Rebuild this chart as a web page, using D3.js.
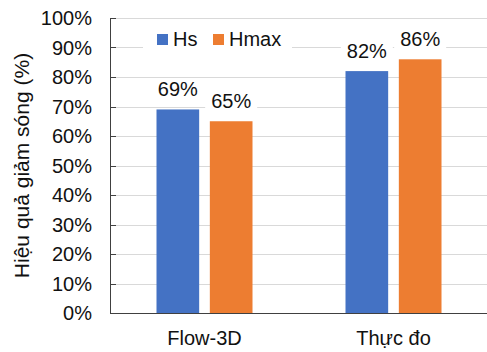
<!DOCTYPE html>
<html>
<head>
<meta charset="utf-8">
<script src="https://cdn.jsdelivr.net/npm/d3@7"></script>
<style>
body { margin: 0; background: #fff; }
svg { display: block; font-family: "Liberation Sans", Arial, sans-serif; }
</style>
</head>
<body>
<div id="chart"></div>
<script>

//=====================DATA=====================

const categories = ['Flow-3D', 'Thực đo']
const series = ['Hs', 'Hmax']
const hsValues = [69, 82]
const hmaxValues = [65, 86]
const yTicks = [0, 10, 20, 30, 40, 50, 60, 70, 80, 90, 100]
const yTitle = 'Hiệu quả giảm sóng (%)'

const colors = {Hs: '#4472C4', Hmax: '#ED7D31'}

//====================STRUCTURE===================

const width = 487
const height = 352
const margin = {top: 18, right: 0, bottom: 39, left: 110}

const svg = d3.select('#chart')
.append('svg')
.attr('width', width)
.attr('height', height)

const x0 = d3.scaleBand()
.domain(categories)
.range([margin.left, 488])

const groupWidth = 96

const x1 = d3.scaleBand()
.domain(series)
.range([0, groupWidth])
.paddingInner(0.2)

const y = d3.scaleLinear()
.domain([0, 100])
.range([height - margin.bottom, margin.top])

const crisp = v => Math.round(v) + 0.5

//================GRID & AXES======================================

svg.append('g')
.selectAll('line')
.data(yTicks.filter(t => t > 0))
.enter()
.append('line')
.attr('x1', margin.left)
.attr('x2', width)
.attr('y1', d => crisp(y(d)))
.attr('y2', d => crisp(y(d)))
.attr('stroke', '#d9d9d9')

//tick marks on the inside of the value axis
svg.append('g')
.selectAll('line')
.data(yTicks)
.enter()
.append('line')
.attr('x1', margin.left)
.attr('x2', margin.left + 6)
.attr('y1', d => crisp(y(d)))
.attr('y2', d => crisp(y(d)))
.attr('stroke', '#404040')

svg.append('line')
.attr('x1', margin.left + 0.5)
.attr('x2', margin.left + 0.5)
.attr('y1', crisp(y(100)))
.attr('y2', crisp(y(0)))
.attr('stroke', '#404040')

svg.append('line')
.attr('x1', margin.left)
.attr('x2', width)
.attr('y1', crisp(y(0)))
.attr('y2', crisp(y(0)))
.attr('stroke', '#404040')

svg.append('g')
.selectAll('text')
.data(yTicks)
.enter()
.append('text')
.attr('x', 92)
.attr('y', d => y(d) + 7)
.attr('text-anchor', 'end')
.attr('font-size', 20)
.attr('fill', '#111')
.text(d => d + '%')

svg.append('g')
.selectAll('text')
.data(categories)
.enter()
.append('text')
.attr('x', d => x0(d) + x0.bandwidth() / 2)
.attr('y', 345)
.attr('text-anchor', 'middle')
.attr('font-size', 20)
.attr('fill', '#111')
.text(d => d)

svg.append('text')
.attr('transform', `translate(29, ${(y(0) + y(100)) / 2}) rotate(-90)`)
.attr('text-anchor', 'middle')
.attr('font-size', 21)
.attr('fill', '#111')
.text(yTitle)

//================BARS======================================

const rows = categories.map((c, i) => ({
	category: c,
	values: [{key: 'Hs', value: hsValues[i]}, {key: 'Hmax', value: hmaxValues[i]}]
}))

const groups = svg.append('g')
.selectAll('g')
.data(rows)
.enter()
.append('g')
.attr('transform', d => `translate(${x0(d.category) + (x0.bandwidth() - groupWidth) / 2}, 0)`)

groups.selectAll('rect')
.data(d => d.values)
.enter()
.append('rect')
.attr('x', d => x1(d.key))
.attr('width', x1.bandwidth())
.attr('y', d => y(d.value))
.attr('height', d => y(0) - y(d.value))
.attr('fill', d => colors[d.key])

//data labels sit on a white box that hides the gridlines
const labels = groups.selectAll('g.label')
.data(d => d.values)
.enter()
.append('g')
.attr('class', 'label')
.attr('transform', d => `translate(${x1(d.key) + x1.bandwidth() / 2}, ${y(d.value) - 13})`)

labels.append('rect')
.attr('x', -26)
.attr('y', -18)
.attr('width', 52)
.attr('height', 24)
.attr('fill', '#fff')

labels.append('text')
.attr('text-anchor', 'middle')
.attr('font-size', 20)
.attr('fill', '#111')
.text(d => d.value + '%')

//================LEGEND======================================

const legend = svg.append('g')

legend.append('rect')
.attr('x', 143)
.attr('y', 28)
.attr('width', 149)
.attr('height', 24)
.attr('fill', '#fff')

const legendX = [157, 213]

const items = legend.selectAll('g')
.data(series)
.enter()
.append('g')
.attr('transform', (d, i) => `translate(${legendX[i]}, 0)`)

items.append('rect')
.attr('y', 34)
.attr('width', 11)
.attr('height', 11)
.attr('fill', d => colors[d])

items.append('text')
.attr('x', 16)
.attr('y', 46)
.attr('font-size', 20)
.attr('fill', '#111')
.text(d => d)

</script>
</body>
</html>
